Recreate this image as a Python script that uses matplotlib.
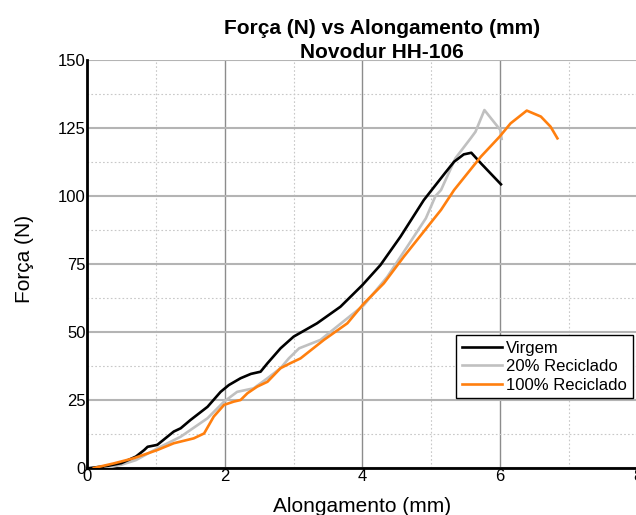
import matplotlib
matplotlib.use("Agg")
import matplotlib.pyplot as plt
from matplotlib.ticker import MultipleLocator

plt.rcParams['font.family'] = ['Liberation Sans', 'DejaVu Sans']

# Curves
virgem_x = [0.05, 0.3, 0.5, 0.71, 0.83, 0.88, 1.02, 1.26, 1.36, 1.5, 1.75, 1.94, 2.06,
            2.23, 2.38, 2.52, 2.62, 2.81, 3.0, 3.34, 3.68, 4.0, 4.26, 4.55, 4.89, 5.2,
            5.33, 5.47, 5.58, 5.72, 6.01]
virgem_y = [0, 0.8, 1.8, 4.2, 6.6, 7.8, 8.5, 13.4, 14.6, 17.6, 22.5, 28, 30.5,
            33, 34.6, 35.4, 38.5, 44, 48.3, 53.2, 59.3, 67.3, 74.6, 85, 98.5, 108.5,
            112.6, 115.3, 115.9, 112, 104.3]

rec20_x = [0.27, 0.5, 0.71, 1.02, 1.36, 1.75, 1.99, 2.18, 2.42, 2.62, 2.81, 2.93, 3.08,
           3.39, 3.63, 4.02, 4.36, 4.65, 4.92, 5.06, 5.14, 5.35, 5.57, 5.64, 5.77, 6.0, 6.02]
rec20_y = [0, 1.2, 2.9, 7.2, 11.5, 18.3, 24.4, 28, 29.3, 33, 36.7, 40.3, 44,
           47.1, 52, 59.9, 70.3, 81.4, 91.8, 100, 102.2, 113.9, 121.2, 123.6, 131.6, 124.3, 121]

rec100_x = [0.1, 0.39, 0.68, 1.02, 1.26, 1.55, 1.7, 1.84, 1.99, 2.13, 2.23, 2.33, 2.47,
            2.62, 2.81, 2.95, 3.1, 3.44, 3.78, 4.02, 4.31, 4.6, 5.14, 5.33, 5.72, 5.99,
            6.15, 6.385, 6.59, 6.73, 6.83]
rec100_y = [0, 1.7, 3.6, 6.6, 9.1, 10.9, 12.7, 18.9, 23.2, 24.4, 25, 27.5, 29.9,
            31.7, 36.7, 38.5, 40.3, 47.1, 53.2, 60.5, 67.9, 77.7, 94.9, 102.2, 114.5, 121.8,
            126.7, 131.4, 129.2, 125.5, 121.2]

labels = ['Virgem', '20% Reciclado', '100% Reciclado']

W, H = 636, 515
fig = plt.figure(figsize=(W / 100, H / 100), dpi=100)
ax = fig.add_axes([87 / W, 47 / H, 551 / W, 408 / H])

ax.plot(virgem_x, virgem_y, color='black', lw=1.9, label=labels[0], zorder=4)
ax.plot(rec20_x, rec20_y, color='#c0c0c0', lw=1.9, label=labels[1], zorder=3)
ax.plot(rec100_x, rec100_y, color='#ff7f0e', lw=1.9, label=labels[2], zorder=5)

ax.set_xlim(0, 8)
ax.set_ylim(0, 150)
ax.xaxis.set_major_locator(MultipleLocator(2))
ax.xaxis.set_minor_locator(MultipleLocator(1))
ax.yaxis.set_major_locator(MultipleLocator(25))
ax.yaxis.set_minor_locator(MultipleLocator(12.5))

ax.xaxis.grid(True, which='major', color='#8c8c8c', lw=1.0)
ax.yaxis.grid(True, which='major', color='#b4b4b4', lw=1.5)
ax.grid(True, which='minor', color='#c8c8c8', lw=0.8, linestyle=(0, (1.5, 2)))
ax.set_axisbelow(True)
ax.yaxis.get_major_ticks()[-1].gridline.set_visible(False)

for s in ['top', 'right']:
    ax.spines[s].set_visible(False)
for s in ['left', 'bottom']:
    ax.spines[s].set_linewidth(2)
    ax.spines[s].set_color('black')

ax.tick_params(which='both', length=0, labelsize=12, pad=1)

leg = ax.legend(loc='upper left', bbox_to_anchor=(456 / W, 1 - 335 / H),
                bbox_transform=fig.transFigure, borderaxespad=0, fontsize=12,
                handlelength=2.4, handletextpad=0.25, borderpad=0.35,
                labelspacing=0.2, fancybox=False, framealpha=1)
leg.get_frame().set_edgecolor('black')
leg.get_frame().set_linewidth(1)

fig.text(382 / W, 1 - 34 / H, 'Força (N) vs Alongamento (mm)', ha='center',
         va='baseline', fontsize=15, fontweight='bold')
fig.text(382 / W, 1 - 58.5 / H, 'Novodur HH-106', ha='center',
         va='baseline', fontsize=15, fontweight='bold')
fig.text(362.5 / W, 1 - 511.5 / H, 'Alongamento (mm)', ha='center',
         va='baseline', fontsize=15)
fig.text(25 / W, 1 - 259 / H, 'Força (N)', ha='center', va='center',
         rotation=90, fontsize=15)

fig.savefig('out.png', dpi=100)
